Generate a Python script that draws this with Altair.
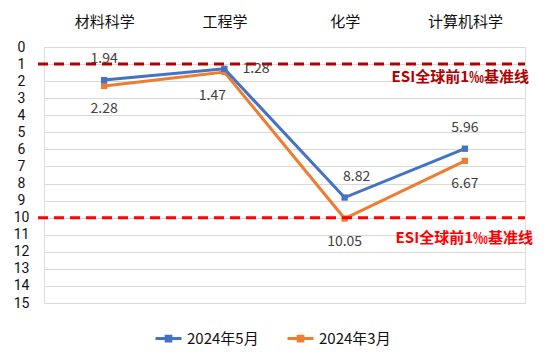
import altair as alt
import pandas as pd

categories = ["材料科学", "工程学", "化学", "计算机科学"]
may_vals = [1.94, 1.28, 8.82, 5.96]
mar_vals = [2.28, 1.47, 10.05, 6.67]
series_names = ["2024年5月", "2024年3月"]
benchmarks = [1, 10]
benchmark_label = "ESI全球前1‰基准线"
y_ticks = list(range(16))

rows = []
for c, v in zip(categories, may_vals):
    rows.append({"cat": c, "val": v, "series": series_names[0], "lab": f"{v:.2f}"})
for c, v in zip(categories, mar_vals):
    rows.append({"cat": c, "val": v, "series": series_names[1], "lab": f"{v:.2f}"})
df = pd.DataFrame(rows)

FONT = "Noto Sans CJK SC"
BLUE = "#4472C4"
ORANGE = "#ED7D31"

xscale = alt.Scale(type="point", padding=0.5, domain=categories)
yscale = alt.Scale(domain=[0, 15], reverse=True, nice=False, zero=False)

xs = alt.X("cat:N", sort=categories, scale=xscale,
           axis=alt.Axis(orient="top", title=None, labelAngle=0, domain=False, ticks=False,
                         labelPadding=18, labelFontSize=15, labelColor="#111111", labelFont=FONT, grid=False))
ys = alt.Y("val:Q", scale=yscale,
           axis=alt.Axis(title=None, values=y_ticks, domain=False, ticks=False, labelAlign="center",
                         labelPadding=23, labelFontSize=14, labelColor="#111111", labelFont="Roboto",
                         labelOverlap=False, grid=True, gridColor="#D9D9D9", gridWidth=1,
                         labelBaseline="middle"))
color = alt.Color("series:N", scale=alt.Scale(domain=series_names, range=[BLUE, ORANGE]),
                  legend=alt.Legend(title=None, orient="none", direction="horizontal", legendX=110, legendY=277,
                                    symbolType="M-1,0H1M-0.18,-0.18H0.18V0.18H-0.18Z", symbolSize=676,
                                    symbolStrokeWidth=3, labelFontSize=15, labelFont=FONT, labelColor="#111111",
                                    columnPadding=22, labelOffset=4))

base = alt.Chart(df)

line_mar = base.transform_filter(alt.datum.series == series_names[1]).mark_line(
    strokeWidth=3, point=alt.OverlayMarkDef(shape="square", size=40, filled=True, color=ORANGE)
).encode(x=xs, y=ys, color=color)
line_may = base.transform_filter(alt.datum.series == series_names[0]).mark_line(
    strokeWidth=3, point=alt.OverlayMarkDef(shape="square", size=40, filled=True, color=BLUE)
).encode(x=xs, y=ys, color=color)

txt = dict(fontSize=14, color="#404040", font=FONT, baseline="middle")

lab_may_above = base.transform_filter(
    (alt.datum.series == series_names[0]) & (alt.datum.cat != "工程学") & (alt.datum.cat != "化学")
).mark_text(dy=-21, **txt).encode(x=xs, y=ys, text="lab:N")
lab_may_chem = base.transform_filter(
    (alt.datum.series == series_names[0]) & (alt.datum.cat == "化学")
).mark_text(dy=-21, dx=12, **txt).encode(x=xs, y=ys, text="lab:N")
lab_may_eng = base.transform_filter(
    (alt.datum.series == series_names[0]) & (alt.datum.cat == "工程学")
).mark_text(dx=18, dy=0, align="left", **txt).encode(x=xs, y=ys, text="lab:N")
lab_mar_below = base.transform_filter(
    (alt.datum.series == series_names[1]) & (alt.datum.cat != "工程学")
).mark_text(dy=23, **txt).encode(x=xs, y=ys, text="lab:N")
lab_mar_eng = base.transform_filter(
    (alt.datum.series == series_names[1]) & (alt.datum.cat == "工程学")
).mark_text(dy=24, dx=-12, **txt).encode(x=xs, y=ys, text="lab:N")

bdf = pd.DataFrame({"val": benchmarks, "lab": [benchmark_label] * 2})
rule_top = alt.Chart(bdf).transform_filter(alt.datum.val == 1).mark_rule(
    color="#B00000", strokeWidth=3, strokeDash=[10, 6]
).encode(y=ys, x=alt.value(-6), x2=alt.value(481))
rule_bot = alt.Chart(bdf).transform_filter(alt.datum.val == 10).mark_rule(
    color="#FF0000", strokeWidth=3, strokeDash=[10, 6]
).encode(y=ys, x=alt.value(-6), x2=alt.value(481))
blab_top = alt.Chart(bdf).transform_filter(alt.datum.val == 1).mark_text(
    color="#B00000", fontSize=15, fontWeight="bold", font=FONT, align="right", baseline="middle", dy=13
).encode(y=ys, x=alt.value(485), text="lab:N")
blab_bot = alt.Chart(bdf).transform_filter(alt.datum.val == 10).mark_text(
    color="#FF0000", fontSize=15, fontWeight="bold", font=FONT, align="right", baseline="middle", dy=20
).encode(y=ys, x=alt.value(489), text="lab:N")

chart = alt.layer(
    line_mar, line_may, rule_top, rule_bot,
    lab_may_above, lab_may_chem, lab_may_eng, lab_mar_below, lab_mar_eng,
    blab_top, blab_bot
).properties(
    width=481, height=256,
    autosize=alt.AutoSizeParams(type="none"),
    padding={"left": 36, "top": 39, "right": 15, "bottom": 48}
).configure_view(stroke=None).configure(font=FONT)

chart.save("out.html", embed_options={"renderer": "svg", "actions": False})
